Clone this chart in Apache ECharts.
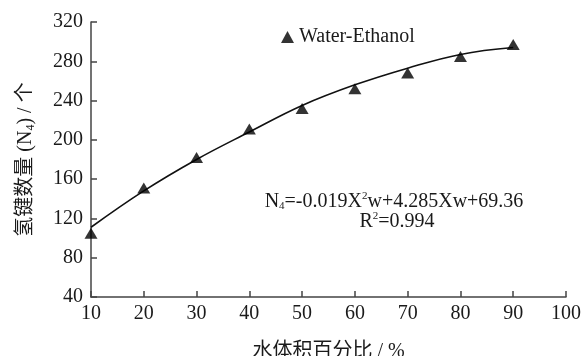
<!DOCTYPE html>
<html>
<head>
<meta charset="utf-8">
<script src="https://cdn.jsdelivr.net/npm/echarts@6/dist/echarts.min.js"></script>
<style>
html,body{margin:0;padding:0;background:#fff;}
#c{width:587px;height:356px;}
</style>
</head>
<body>
<div id="c"></div>
<script>
// Data
const waterPct = [10, 20, 30, 40, 50, 60, 70, 80, 90];
const hbondCount = [105, 151, 182, 211, 232, 252, 268, 285, 297];
const fitCurve = [111, 148, 180, 208, 235, 256, 273, 287, 294];
const xTicks = [10, 20, 30, 40, 50, 60, 70, 80, 90, 100];
const yTicks = [40, 80, 120, 160, 200, 240, 280, 320];
const seriesName = 'Water-Ethanol';

const serif = '"Liberation Serif", "Times New Roman", "Noto Sans CJK SC", serif';
const textCol = '#1a1a1a';
const axisCol = '#444';

const chart = echarts.init(document.getElementById('c'));
chart.setOption({
  animation: false,
  backgroundColor: '#fff',
  grid: { left: 91, right: 21, top: 22, bottom: 59, containLabel: false, outerBoundsMode: 'none' },
  legend: {
    data: [seriesName],
    left: 276, top: 22,
    itemWidth: 13, itemHeight: 12, icon: 'triangle',
    textStyle: { fontFamily: serif, fontSize: 20, color: textCol }
  },
  xAxis: {
    type: 'value', min: xTicks[0], max: xTicks[xTicks.length - 1], interval: 10,
    axisLine: { show: true, lineStyle: { color: axisCol, width: 1.5 } },
    axisTick: { show: true, inside: true, length: 6, lineStyle: { color: axisCol, width: 1.5 } },
    axisLabel: { fontFamily: serif, fontSize: 20, color: textCol, margin: 7 },
    splitLine: { show: false },
    name: '水体积百分比 / %', nameLocation: 'middle', nameGap: 45,
    nameTextStyle: { fontFamily: serif, fontSize: 20, color: textCol }
  },
  yAxis: {
    type: 'value', min: yTicks[0], max: yTicks[yTicks.length - 1], interval: 40,
    axisLine: { show: true, lineStyle: { color: axisCol, width: 1.5 } },
    axisTick: { show: true, inside: true, length: 6, lineStyle: { color: axisCol, width: 1.5 } },
    axisLabel: { fontFamily: serif, fontSize: 20, color: textCol, margin: 8 },
    splitLine: { show: false },
    name: '{a|氢键数量 (N}{s|4}{a|) / 个}', nameLocation: 'middle', nameGap: 54,
    nameTextStyle: {
      fontFamily: serif, fontSize: 20, color: textCol,
      rich: {
        a: { fontFamily: serif, fontSize: 20, color: textCol, lineHeight: 22 },
        s: { fontFamily: serif, fontSize: 12, color: textCol, verticalAlign: 'bottom', lineHeight: 22, padding: [7, 0, 0, 0] }
      }
    }
  },
  series: [
    {
      name: 'fit', type: 'line', smooth: 0.4, showSymbol: false, silent: true,
      data: waterPct.map((x, i) => [x, fitCurve[i]]),
      lineStyle: { color: '#111', width: 1.6 }, z: 2
    },
    {
      name: seriesName, type: 'scatter', symbol: 'triangle', symbolSize: [13, 11],
      data: waterPct.map((x, i) => [x, hbondCount[i]]),
      itemStyle: { color: '#000' }, z: 3
    }
  ],
  graphic: [
    {
      type: 'text', x: 394, y: 191,
      style: {
        text: '{n|N}{s|4}{n|=-0.019X}{p|2}{n|w+4.285Xw+69.36}',
        align: 'center', verticalAlign: 'top',
        fill: textCol,
        rich: {
          n: { fontFamily: serif, fontSize: 20, lineHeight: 21, fill: textCol },
          s: { fontFamily: serif, fontSize: 11, lineHeight: 21, verticalAlign: 'bottom', padding: [8, 0, 0, 0], fill: textCol },
          p: { fontFamily: serif, fontSize: 11, lineHeight: 21, verticalAlign: 'top', padding: [0, 0, 8, 0], fill: textCol }
        }
      }
    },
    {
      type: 'text', x: 397, y: 211,
      style: {
        text: '{n|R}{p|2}{n|=0.994}',
        align: 'center', verticalAlign: 'top',
        fill: textCol,
        rich: {
          n: { fontFamily: serif, fontSize: 20, lineHeight: 21, fill: textCol },
          p: { fontFamily: serif, fontSize: 11, lineHeight: 21, verticalAlign: 'top', padding: [0, 0, 8, 0], fill: textCol }
        }
      }
    }
  ]
});
</script>
</body>
</html>
